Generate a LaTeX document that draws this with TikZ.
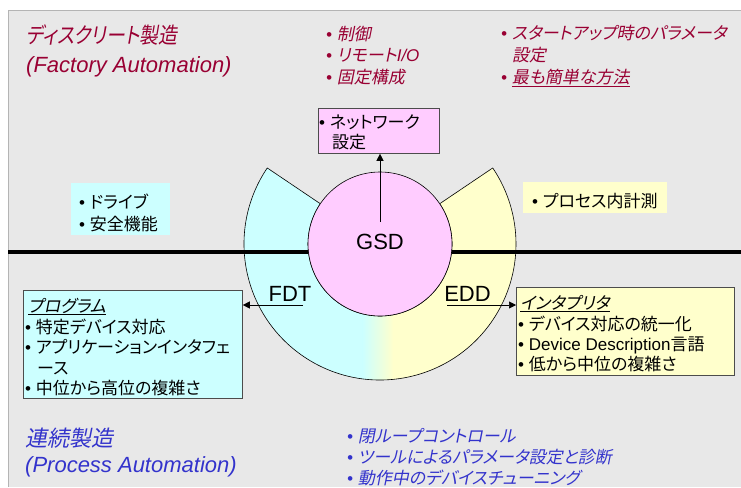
\documentclass[tikz,border=0pt]{standalone}
\usepackage{fontspec}
\usepackage{graphicx}
\setmainfont{Liberation Sans}
\newfontfamily\jpf[RawFeature=+palt]{Noto Sans CJK JP}
\newfontfamily\jpif[RawFeature=+palt,FakeSlant=0.2]{Noto Sans CJK JP}
\newcommand{\jtext}[1]{{\jpf #1}}
\newcommand{\jitext}[1]{{\jpif #1}}
\usetikzlibrary{arrows.meta,calc}
\definecolor{panel}{HTML}{E8E8E8}
\definecolor{panelborder}{HTML}{B4B4B4}
\definecolor{darkred}{RGB}{153,0,51}
\definecolor{blueish}{RGB}{51,51,204}
\definecolor{cyanfill}{HTML}{CCFFFF}
\definecolor{yellowfill}{HTML}{FFFFCC}
\definecolor{pinkfill}{HTML}{FFCCFF}
\tikzset{
  bodytxt/.style={inner sep=0, anchor=base west, font=\fontsize{17}{20}\selectfont},
  itbody/.style={bodytxt, font=\fontsize{17}{20}\selectfont\itshape},
  titletxt/.style={inner sep=0, anchor=base west, font=\fontsize{22}{26}\selectfont\itshape},
  labeltxt/.style={inner sep=0, anchor=base, font=\fontsize{22}{26}\selectfont},
  boxframe/.style={draw=black!70, line width=0.8pt, inner sep=0, anchor=north west},
  plainbox/.style={inner sep=0, anchor=north west},
  arr/.style={-{Triangle[length=7pt,width=7pt]}, line width=0.6pt},
}
\begin{document}
\begin{tikzpicture}[x=1pt,y=-1pt]
\useasboundingbox (0,0) rectangle (741,487);
% panel
\fill[panel] (8,10) rectangle (741,487);
\draw[panelborder, line width=0.9pt] (741,10) -- (8,10) -- (8,487);

% ring
\coordinate (c) at (380,244);
\begin{scope}
  \clip[shift={(c)}] (214:136) arc[start angle=214,end angle=-34,radius=136]
      -- (-34:72) arc[start angle=-34,end angle=214,radius=72] -- cycle;
  \fill[cyanfill] (200,100) rectangle (363,400);
  \shade[left color=cyanfill,right color=yellowfill] (362.5,100) rectangle (393.5,400);
  \fill[yellowfill] (393,100) rectangle (560,400);
\end{scope}
\draw[shift={(c)}, line width=0.6pt] (214:136) arc[start angle=214,end angle=-34,radius=136]
      -- (-34:72) arc[start angle=-34,end angle=214,radius=72] -- cycle;

% thick horizontal line
\coordinate (hl) at (8,251.8);
\coordinate (hr) at (741,251.8);
\draw[line width=4pt] (hl) -- (hr);

% GSD circle
\node[circle, fill=pinkfill, draw, line width=0.6pt, minimum size=144pt, inner sep=0] (gsd) at (c) {};
\node[labeltxt] (gsdlabel) at (380,249) {GSD};
\node[labeltxt] (fdtlabel) at (290,301.5) {FDT};
\node[labeltxt] (eddlabel) at (467.5,301.5) {EDD};

% boxes
\node[boxframe, fill=pinkfill, minimum width=121pt, minimum height=45pt] (net) at (318,108) {};
\node[plainbox, fill=cyanfill, minimum width=99pt, minimum height=52pt] (drive) at (71,183) {};
\node[plainbox, fill=yellowfill, minimum width=144pt, minimum height=31pt] (proc) at (523,182) {};
\node[boxframe, fill=cyanfill, minimum width=219pt, minimum height=108pt] (prog) at (23,290) {};
\node[boxframe, fill=yellowfill, minimum width=218pt, minimum height=88pt] (interp) at (516,287) {};

% connectors
\coordinate (gsdtop) at (380,222);
\draw[arr] (gsdtop) -- (gsdtop |- net.south);
\coordinate (fdtend) at (303,305);
\draw[arr] (fdtend) -- (fdtend -| prog.east);
\coordinate (eddstart) at (447,305);
\draw[arr] (eddstart) -- (eddstart -| interp.west);

% red titles
\node[titletxt, text=darkred] (fa1) at (26,44) {\scalebox{0.86}[1]{\jitext{ディスクリート製造}}};
\node[titletxt, text=darkred] (fa2) at (26,72) {(Factory Automation)};
\node[itbody, text=darkred] (r1) at (326,41) {•~\jitext{制御}};
\node[itbody, text=darkred] (r2) at (326,62) {•~\jitext{リモート}I/O};
\node[itbody, text=darkred] (r3) at (326,83) {•~\jitext{固定構成}};
\node[itbody, text=darkred] (r4) at (501,40) {•~\jitext{スタートアップ時のパラメータ}};
\node[itbody, text=darkred] (r5) at (512,62) {\jitext{設定}};
\node[itbody, text=darkred] (r6) at (501,83) {•~\underline{\jitext{最も簡単な方法}}};

% network box text
\node[bodytxt] (n1) at (319,128) {•~\jtext{ネットワーク}};
\node[bodytxt] (n2) at (332,148) {\jtext{設定}};

% drive box text
\node[bodytxt] (d1) at (79,208) {•~\jtext{ドライブ}};
\node[bodytxt] (d2) at (79,230) {•~\jtext{安全機能}};

% process box text
\node[bodytxt] (p1) at (532,207) {•~\jtext{プロセス内計測}};

% program box text
\node[bodytxt] (g0) at (28,312) {\underline{\jitext{プログラム}}};
\node[bodytxt] (g1) at (25,333) {•~\jtext{特定デバイス対応}};
\node[bodytxt] (g2) at (25,353) {•~\jtext{アプリケーションインタフェ}};
\node[bodytxt] (g3) at (37,374) {\jtext{ース}};
\node[bodytxt] (g4) at (25,394) {•~\jtext{中位から高位の複雑さ}};

% interpreter box text
\node[bodytxt] (i0) at (520,309) {\underline{\jitext{インタプリタ}}};
\node[bodytxt] (i1) at (518,330) {•~\jtext{デバイス対応の統一化}};
\node[bodytxt] (i2) at (518,350) {•~Device Description\jtext{言語}};
\node[bodytxt] (i3) at (518,370) {•~\jtext{低から中位の複雑さ}};

% blue bottom
\node[titletxt, text=blueish] (pa1) at (25,446) {\jitext{連続製造}};
\node[titletxt, text=blueish] (pa2) at (25,472) {(Process Automation)};
\node[itbody, text=blueish] (b1) at (347,442) {•~\jitext{閉ループコントロール}};
\node[itbody, text=blueish] (b2) at (347,463) {•~\jitext{ツールによるパラメータ設定と診断}};
\node[itbody, text=blueish] (b3) at (347,484) {•~\jitext{動作中のデバイスチューニング}};
\end{tikzpicture}
\end{document}
